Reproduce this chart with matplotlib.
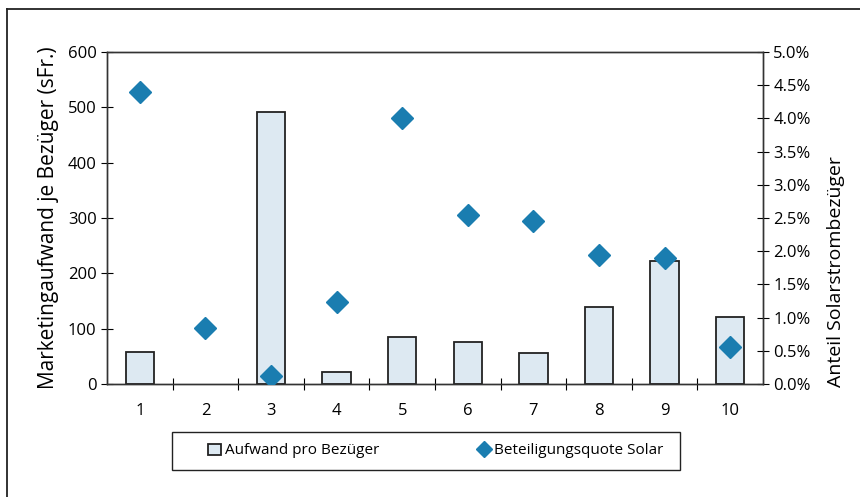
import matplotlib.pyplot as plt
import matplotlib.lines as mlines
import matplotlib.patches as mpatches
from matplotlib.ticker import FuncFormatter, FixedLocator
import numpy as np

plt.rcParams['font.family'] = ['Liberation Sans Narrow', 'Open Sans', 'DejaVu Sans']

# Daten
kategorien = ['1', '2', '3', '4', '5', '6', '7', '8', '9', '10']
aufwand = [58, 0, 492, 22, 85, 76, 56, 139, 222, 121]
quote = [4.40, 0.85, 0.12, 1.23, 4.00, 2.54, 2.46, 1.95, 1.90, 0.55]

fig = plt.figure(figsize=(8.6, 4.97), dpi=100)
ax = fig.add_axes([107/860, 1 - 384/497, (763 - 107)/860, (384 - 52)/497])
ax2 = ax.twinx()

x = np.arange(len(kategorien))
balken = ax.bar(x, aufwand, width=0.43, color='#dde9f2', edgecolor='#222222',
                linewidth=1.3, label='Aufwand pro Bezüger', zorder=2)
# Balken mit Wert 0 nicht zeichnen
for b, v in zip(balken, aufwand):
    if v == 0:
        b.set_visible(False)
punkte, = ax2.plot(x, quote, linestyle='none', marker='D', markersize=11,
                   color='#1a7db0', label='Beteiligungsquote Solar', zorder=3)

ax.set_xlim(-0.5, len(kategorien) - 0.5)
ax.set_ylim(0, 600)
ax2.set_ylim(0, 5.0)
ax.set_yticks(range(0, 601, 100))
ax2.set_yticks(np.arange(0, 5.01, 0.5))
ax2.yaxis.set_major_formatter(FuncFormatter(lambda v, p: f'{v:.1f}%'))

ax.set_xticks(x)
ax.set_xticklabels(kategorien)
ax.xaxis.set_minor_locator(FixedLocator(np.arange(0.5, len(kategorien) - 1, 1)))
ax.tick_params(axis='x', which='major', length=0, pad=14, labelsize=12)
ax.tick_params(axis='x', which='minor', direction='inout', length=8, width=0.8)
ax.tick_params(axis='y', direction='inout', length=8, width=0.8, labelsize=12)
ax2.tick_params(axis='y', direction='inout', length=8, width=0.8, labelsize=12)

for a in (ax, ax2):
    for s in a.spines.values():
        s.set_linewidth(1.0)
        s.set_color('#333333')

ax.set_ylabel('Marketingaufwand je Bezüger (sFr.)', fontsize=15, labelpad=6)
ax2.set_ylabel('Anteil Solarstrombezüger', fontsize=14)
ax2.yaxis.set_label_coords(1.098, 0.34)

# Legende: eigener Rahmen, Einträge ohne Rahmen
fig.add_artist(mpatches.Rectangle((172/860, 1 - 470/497), 508/860, 38/497,
                                  transform=fig.transFigure, fill=False,
                                  edgecolor='#222222', linewidth=1.0))
leg = fig.legend([balken, punkte], ['Aufwand pro Bezüger', 'Beteiligungsquote Solar'],
                 loc='center', bbox_to_anchor=(436/860, 1 - 451/497),
                 ncol=2, frameon=False, handlelength=0.8, handletextpad=0.3,
                 columnspacing=6.4, markerscale=0.7, fontsize=11)

# Rahmen links und oben
fig.add_artist(mlines.Line2D([7/860, 7/860], [0, 1 - 9/497], color='#222222', linewidth=1.3))
fig.add_artist(mlines.Line2D([7/860, 1], [1 - 9/497, 1 - 9/497], color='#222222', linewidth=1.3))

plt.savefig('out.png', dpi=100)
plt.close()
